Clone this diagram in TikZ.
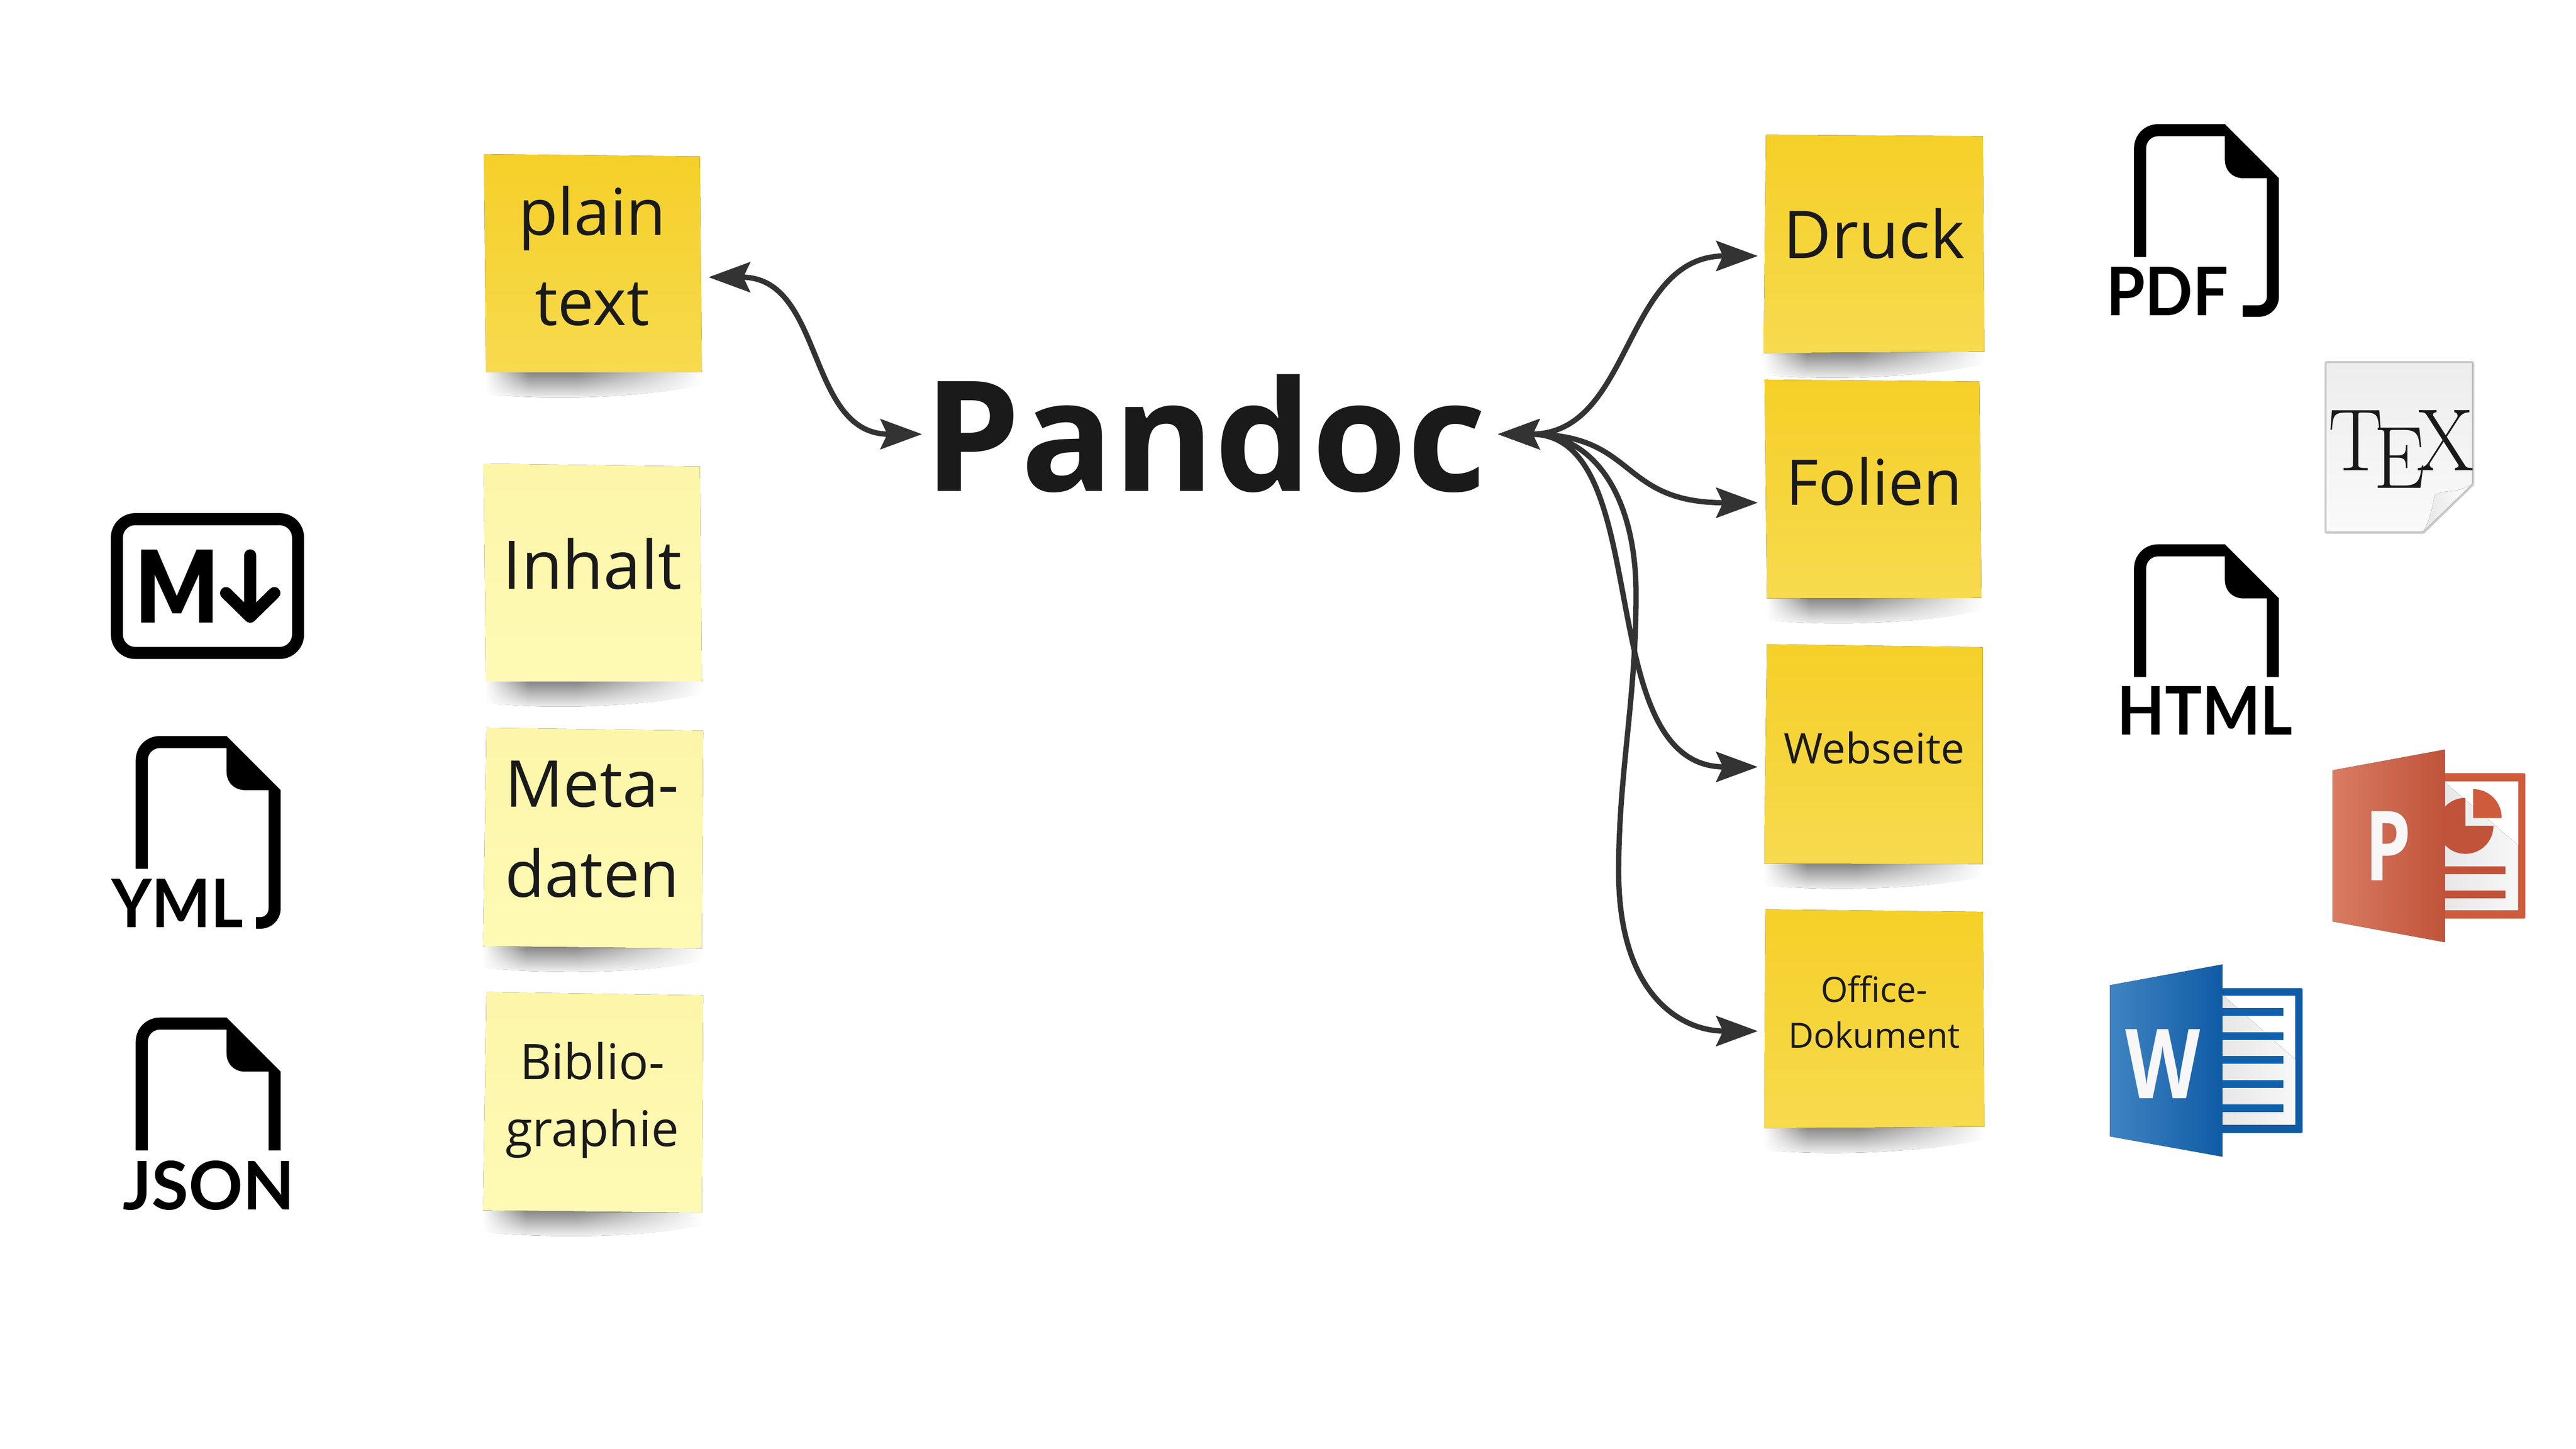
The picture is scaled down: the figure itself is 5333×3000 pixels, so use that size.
\documentclass[tikz,border=0pt]{standalone}
\usepackage{fontspec}
\setmainfont{Open Sans}
\newfontfamily\iconfont{Lato}
\usepackage{xcolor}
\usetikzlibrary{arrows.meta,calc,fadings}
\definecolor{ink}{HTML}{1A1A1A}
\definecolor{arrowgrey}{HTML}{333333}
\definecolor{sunA}{HTML}{F5D028}
\definecolor{sunM}{HTML}{F5D231}
\definecolor{sunB}{HTML}{F7DA4E}
\definecolor{paleA}{HTML}{FDF6A9}
\definecolor{paleB}{HTML}{FEFAB5}
\definecolor{pptA}{HTML}{D87C62}
\definecolor{pptB}{HTML}{C0533A}
\definecolor{pptC}{HTML}{CD5B3C}
\definecolor{wordA}{HTML}{4084C2}
\definecolor{wordB}{HTML}{0F5BA5}
\definecolor{wordC}{HTML}{1061AC}

% sticky note: style, then the four corners
\newcommand{\notepaper}[5]{%
  \fill[top color=black!48, middle color=black!9, bottom color=white]
    (#5) -- (#4) -- ($(#4)+(0,25)$) .. controls ($(#4)+(-100,50)$) and ($(#5)+(150,60)$) .. ($(#5)+(0,45)$) -- cycle;
  \fill[white, path fading=east] ($(#5)+(-1,0)$) rectangle ($(#5)+(90,80)$);
  \fill[white, path fading=west] ($(#4)+(-260,0)$) rectangle ($(#4)+(1,80)$);
  \fill[#1] (#2) -- (#3) -- (#4) -- (#5) -- cycle;
}

\begin{document}
\begin{tikzpicture}[
    x=0.01cm, y=-0.01cm,
    sun/.style={top color=sunA, middle color=sunM, bottom color=sunB},
    pale/.style={top color=paleA, bottom color=paleB},
    note/.style={minimum width=4.8cm, align=center, text=ink, inner sep=0pt},
    bigtext/.style={font=\fontsize{38}{52.9}\selectfont},
    midtext/.style={font=\fontsize{28.9}{39.6}\selectfont},
    smalltext/.style={font=\fontsize{20.5}{27}\selectfont},
    arrow/.style={<->, >={Stealth[length=0.86cm, width=0.62cm, inset=0.14cm]}, line width=0.11cm, draw=arrowgrey},
    iconlabel/.style={font=\iconfont\bfseries\fontsize{39.5}{40}\selectfont, inner sep=0pt, anchor=base west, transform shape},
    letter/.style={font=\bfseries\fontsize{57}{57}\selectfont, text=white!97!black, inner sep=0pt, transform shape},
    pics/fileshort/.style={code={
      \fill (0,275) -- (0,50) .. controls (0,22) and (22,0) .. (50,0) -- (188,0) -- (300,112) -- (300,275) -- (275,275) -- (275,112)
        -- (226,112) .. controls (204,112) and (188,96) .. (188,74) -- (188,25) -- (50,25) .. controls (36,25) and (25,36) .. (25,50) -- (25,275) -- cycle;
    }},
    pics/filelong/.style={code={
      \fill (0,275) -- (0,50) .. controls (0,22) and (22,0) .. (50,0) -- (188,0) -- (300,112) -- (300,357) .. controls (300,381) and (281,399) .. (258,399)
        -- (#1,399) -- (#1,375) -- (258,375) .. controls (268,375) and (275,367) .. (275,357) -- (275,112)
        -- (226,112) .. controls (204,112) and (188,96) .. (188,74) -- (188,25) -- (50,25) .. controls (36,25) and (25,36) .. (25,50) -- (25,275) -- cycle;
    }}
]
    \useasboundingbox[fill=white] (0,0) rectangle (5333,3000);

    % Input notes
    \notepaper{sun}{1002,319}{1449,324}{1453,771}{1006,771}
    \notepaper{pale}{1001,960}{1449,966}{1453,1411}{1006,1411}
    \notepaper{pale}{1007,1507}{1456,1513}{1453,1964}{1000,1959}
    \notepaper{pale}{1007,2054}{1456,2061}{1453,2511}{1000,2506}
    \node[note, bigtext] (plain) at (1226,530) {plain\\text};
    \node[note, bigtext, font=\fontsize{39.5}{52.9}\selectfont] (inhalt) at (1226,1168) {Inhalt};
    \node[note, bigtext] (meta) at (1226,1717) {Meta-\\daten};
    \node[note, midtext] (biblio) at (1226,2278) {Biblio-\\graphie};

    % Output notes
    \notepaper{sun}{3656,279}{4105,282}{4108,728}{3651,731}
    \notepaper{sun}{3653,786}{4098,790}{4102,1238}{3658,1239}
    \notepaper{sun}{3658,1334}{4105,1340}{4105,1789}{3652,1788}
    \notepaper{sun}{3655,1883}{4105,1888}{4108,2333}{3652,2336}
    \node[note, bigtext, font=\fontsize{38.8}{52.9}\selectfont] (druck) at (3880,484) {Druck};
    \node[note, bigtext, font=\fontsize{37.1}{52.9}\selectfont] (folien) at (3880,997) {Folien};
    \node[note, midtext, font=\fontsize{24.8}{39}\selectfont] (webseite) at (3880,1548) {Webseite};
    \node[note, smalltext] (office) at (3880,2095) {Office-\\Dokument};

    % Pandoc
    \node[font=\bfseries\fontsize{90.5}{91}\selectfont, text=ink, minimum width=11.9cm, inner sep=0pt, text depth=0.06cm] (pandoc) at (2505,899) {Pandoc\hspace*{0.2cm}};

    % Connections
    \draw[arrow] ($(plain.east)+(0,44)$) .. controls +(240,0) and ($(pandoc.west)+(-240,0)$) .. (pandoc.west);
    \draw[arrow] (pandoc.east) .. controls +(280,0) and ($(druck.west)+(-280,46)$) .. ($(druck.west)+(0,46)$);
    \draw[arrow] (pandoc.east) .. controls +(290,0) and ($(folien.west)+(-290,44)$) .. ($(folien.west)+(0,44)$);
    \draw[arrow] (pandoc.east) .. controls +(330,0) and ($(webseite.west)+(-350,40)$) .. ($(webseite.west)+(0,40)$);
    \draw[arrow] (pandoc.east) .. controls +(200,0) and (3387,1030) .. (3387,1230)
        .. controls (3387,1450) and (3351,1600) .. (3351,1805)
        .. controls (3351,2060) and (3480,2135) .. ($(office.west)+(0,40)$);

    % Markdown icon
    \draw[line width=0.25cm, rounded corners=0.38cm] (242,1075) rectangle (617,1352);
    \fill (292,1289) -- (292,1138) -- (325,1138) -- (366,1234) -- (407,1138) -- (440,1138) -- (440,1289) -- (412,1289) -- (412,1189) -- (375,1270) -- (357,1270) -- (320,1189) -- (320,1289) -- cycle;
    \draw[line width=0.25cm, line cap=round, line join=round] (518,1150) -- (518,1277) (468,1228) -- (518,1277) -- (568,1228);

    % File icons
    \pic at (281,1524) {filelong=249};
    \pic at (281,2107) {fileshort};
    \pic at (4418,257) {filelong=225};
    \pic at (4418,1127) {fileshort};
    \node[iconlabel, xscale=0.93] (yml) at (230,1920) {YML};
    \node[iconlabel] (json) at (254,2505) {JSON};
    \node[iconlabel, xscale=0.935] (pdf) at (4360,653) {PDF};
    \node[iconlabel, xscale=0.92] (html) at (4383,1522) {HTML};

    % TeX sheet
    \draw[black!20, line width=0.09cm, line join=round] (4817,752) -- (5118,752) -- (5118,1002) -- (5016,1101) -- (4817,1101) -- cycle;
    \fill[top color=black!7, bottom color=black!2] (4817,752) -- (5118,752) -- (5118,1002) -- (5016,1101) -- (4817,1101) -- cycle;
    \fill[left color=black!10, right color=white] (5118,1002) .. controls (5080,1025) and (5060,1012) .. (5040,1026) .. controls (5035,1055) and (5028,1085) .. (5016,1101) -- cycle;
    \node[font=\usefont{TU}{lmr}{m}{n}\fontsize{52}{52}\selectfont, xscale=0.93, transform shape, inner sep=0pt, text=black!90] (texmark) at (4971,930) {T\kern-.12em\raisebox{-.2em}{E}\kern-.1em X};

    % PowerPoint icon
    \fill[pptC, rounded corners=0.03cm] (5050,1601) rectangle (5228,1902);
    \fill[white] (5050,1618) rectangle (5213,1885);
    \fill[left color=black!10, right color=black!3] (5050,1610) -- (5213,1750) -- (5213,1885) -- (5050,1885) -- cycle;
    \begin{scope}
        \clip (5040,1640) -- (5104,1640) -- (5104,1710) -- (5170,1710) -- (5170,1780) -- (5040,1780) -- cycle;
        \fill[pptB] (5104,1710) circle[radius=0.58cm];
    \end{scope}
    \begin{scope}
        \clip (5120,1625) rectangle (5190,1693);
        \fill[pptC] (5120,1693) circle[radius=0.59cm];
    \end{scope}
    \fill[pptB] (5050,1794) rectangle (5187,1810) (5050,1844) rectangle (5187,1860);
    \fill[left color=pptA, right color=pptB] (4829,1595) -- (5062,1552) -- (5062,1951) -- (4829,1908) -- cycle;
    \node[letter, xscale=0.76] (pptletter) at (4944,1752) {P};

    % Word icon
    \fill[wordB, rounded corners=0.03cm] (4590,2046) rectangle (4767,2346);
    \fill[white] (4590,2062) rectangle (4752,2329);
    \fill[left color=black!10, right color=black!3] (4590,2050) -- (4752,2194) -- (4752,2329) -- (4590,2329) -- cycle;
    \foreach \y in {2087,2137,2187,2237,2287} {
        \fill[wordC] (4590,\y) rectangle (4727,\y+16);
    }
    \fill[left color=wordA, right color=wordB] (4368,2040) -- (4601,1997) -- (4601,2395) -- (4368,2353) -- cycle;
    \node[letter, xscale=0.8] (wordletter) at (4478,2203) {W};
\end{tikzpicture}
\end{document}
